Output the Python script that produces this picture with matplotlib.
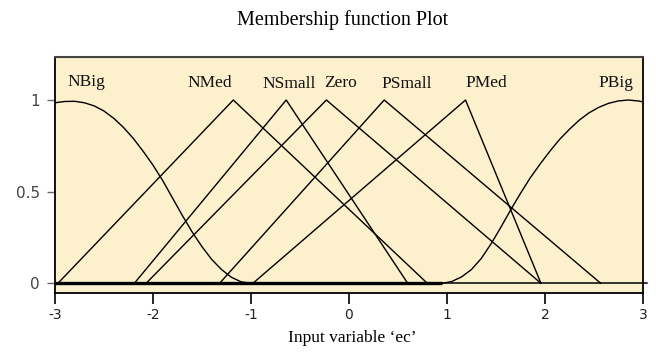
import numpy as np
import matplotlib.pyplot as plt

# triangular membership functions: left foot, peak, right foot
tri_names = ['NMed', 'NSmall', 'Zero', 'PSmall', 'PMed']
tri_left = [-2.97, -2.19, -2.07, -1.32, -0.98]
tri_peak = [-1.18, -0.64, -0.23, 0.36, 1.19]
tri_right = [0.80, 0.60, 1.96, 2.57, 1.96]

# bell-shaped outer sets (sampled along the curve)
nbig_x = [-3.0, -2.9, -2.8, -2.7, -2.6, -2.5, -2.4, -2.3, -2.2, -2.1,
          -2.0, -1.9, -1.8, -1.7, -1.6, -1.5, -1.4, -1.3, -1.2, -1.1, -1.0]
nbig_y = [0.985, 0.992, 0.993, 0.985, 0.968, 0.940, 0.900, 0.850, 0.790,
          0.720, 0.645, 0.560, 0.465, 0.370, 0.280, 0.200, 0.130, 0.075,
          0.033, 0.008, 0.0]
pbig_x = [0.955, 1.05, 1.15, 1.25, 1.35, 1.45, 1.55, 1.65, 1.75, 1.85,
          1.95, 2.05, 2.15, 2.25, 2.35, 2.45, 2.55, 2.65, 2.75, 2.85,
          2.95, 3.0]
pbig_y = [0.0, 0.010, 0.035, 0.075, 0.135, 0.215, 0.305, 0.400, 0.490,
          0.575, 0.650, 0.720, 0.785, 0.840, 0.890, 0.930, 0.960, 0.982,
          0.995, 1.0, 0.995, 0.99]

# label anchor positions
label_names = ['NBig', 'NMed', 'NSmall', 'Zero', 'PSmall', 'PMed', 'PBig']
label_x = [-2.68, -1.42, -0.61, -0.09, 0.59, 1.40, 2.725]
label_y = [1.098, 1.093, 1.088, 1.093, 1.087, 1.093, 1.093]

xticks = [-3, -2, -1, 0, 1, 2, 3]
yticks = [0, 0.5, 1]
ytick_labels = ['0', '0.5', '1']

fig = plt.figure(figsize=(6.56, 3.55), dpi=100)
ax = fig.add_axes([0.0838, 0.1746, 0.8962, 0.6648])
ax.set_facecolor('#fdf0cd')

for a, b, c in zip(tri_left, tri_peak, tri_right):
    ax.plot([a, b, c], [0, 1, 0], color='black', lw=1.0)
ax.plot(nbig_x, nbig_y, color='black', lw=1.0)
ax.plot(pbig_x, pbig_y, color='black', lw=1.0)

# zero baseline, heavier where the sets overlap at zero
ax.plot([-3, 0.95], [0, 0], color='black', lw=2.4, solid_capstyle='butt')
ax.plot([0.95, 3.04], [0, 0], color='black', lw=1.1, clip_on=False)

for name, x, y in zip(label_names, label_x, label_y):
    ax.text(x, y, name, ha='center', va='center', fontsize=12.5,
            family='Liberation Serif', color='#111111')

ax.set_xlim(-3, 3)
ax.set_ylim(-0.053, 1.2346)
ax.set_xticks(xticks)
ax.set_xticklabels([str(t) for t in xticks], fontsize=10, color='#222222')
ax.set_yticks(yticks)
ax.set_yticklabels(ytick_labels, fontsize=11, color='#444444')
ax.tick_params(axis='x', length=8, width=1.2, color='black', pad=3)
ax.tick_params(axis='y', length=6, width=1.0, color='#666666', pad=5)

for side in ['left', 'right', 'bottom']:
    ax.spines[side].set_color('black')
    ax.spines[side].set_linewidth(1.3)
ax.spines['top'].set_color('#444444')
ax.spines['top'].set_linewidth(1.5)

fig.text(0.522, 0.944, 'Membership function Plot', ha='center', va='center',
         fontsize=14.5, family='Liberation Serif')
fig.text(0.537, 0.048, 'Input variable \u2018ec\u2019', ha='center', va='center',
         fontsize=12.5, family='Liberation Serif')

fig.savefig('out.png', dpi=100)
